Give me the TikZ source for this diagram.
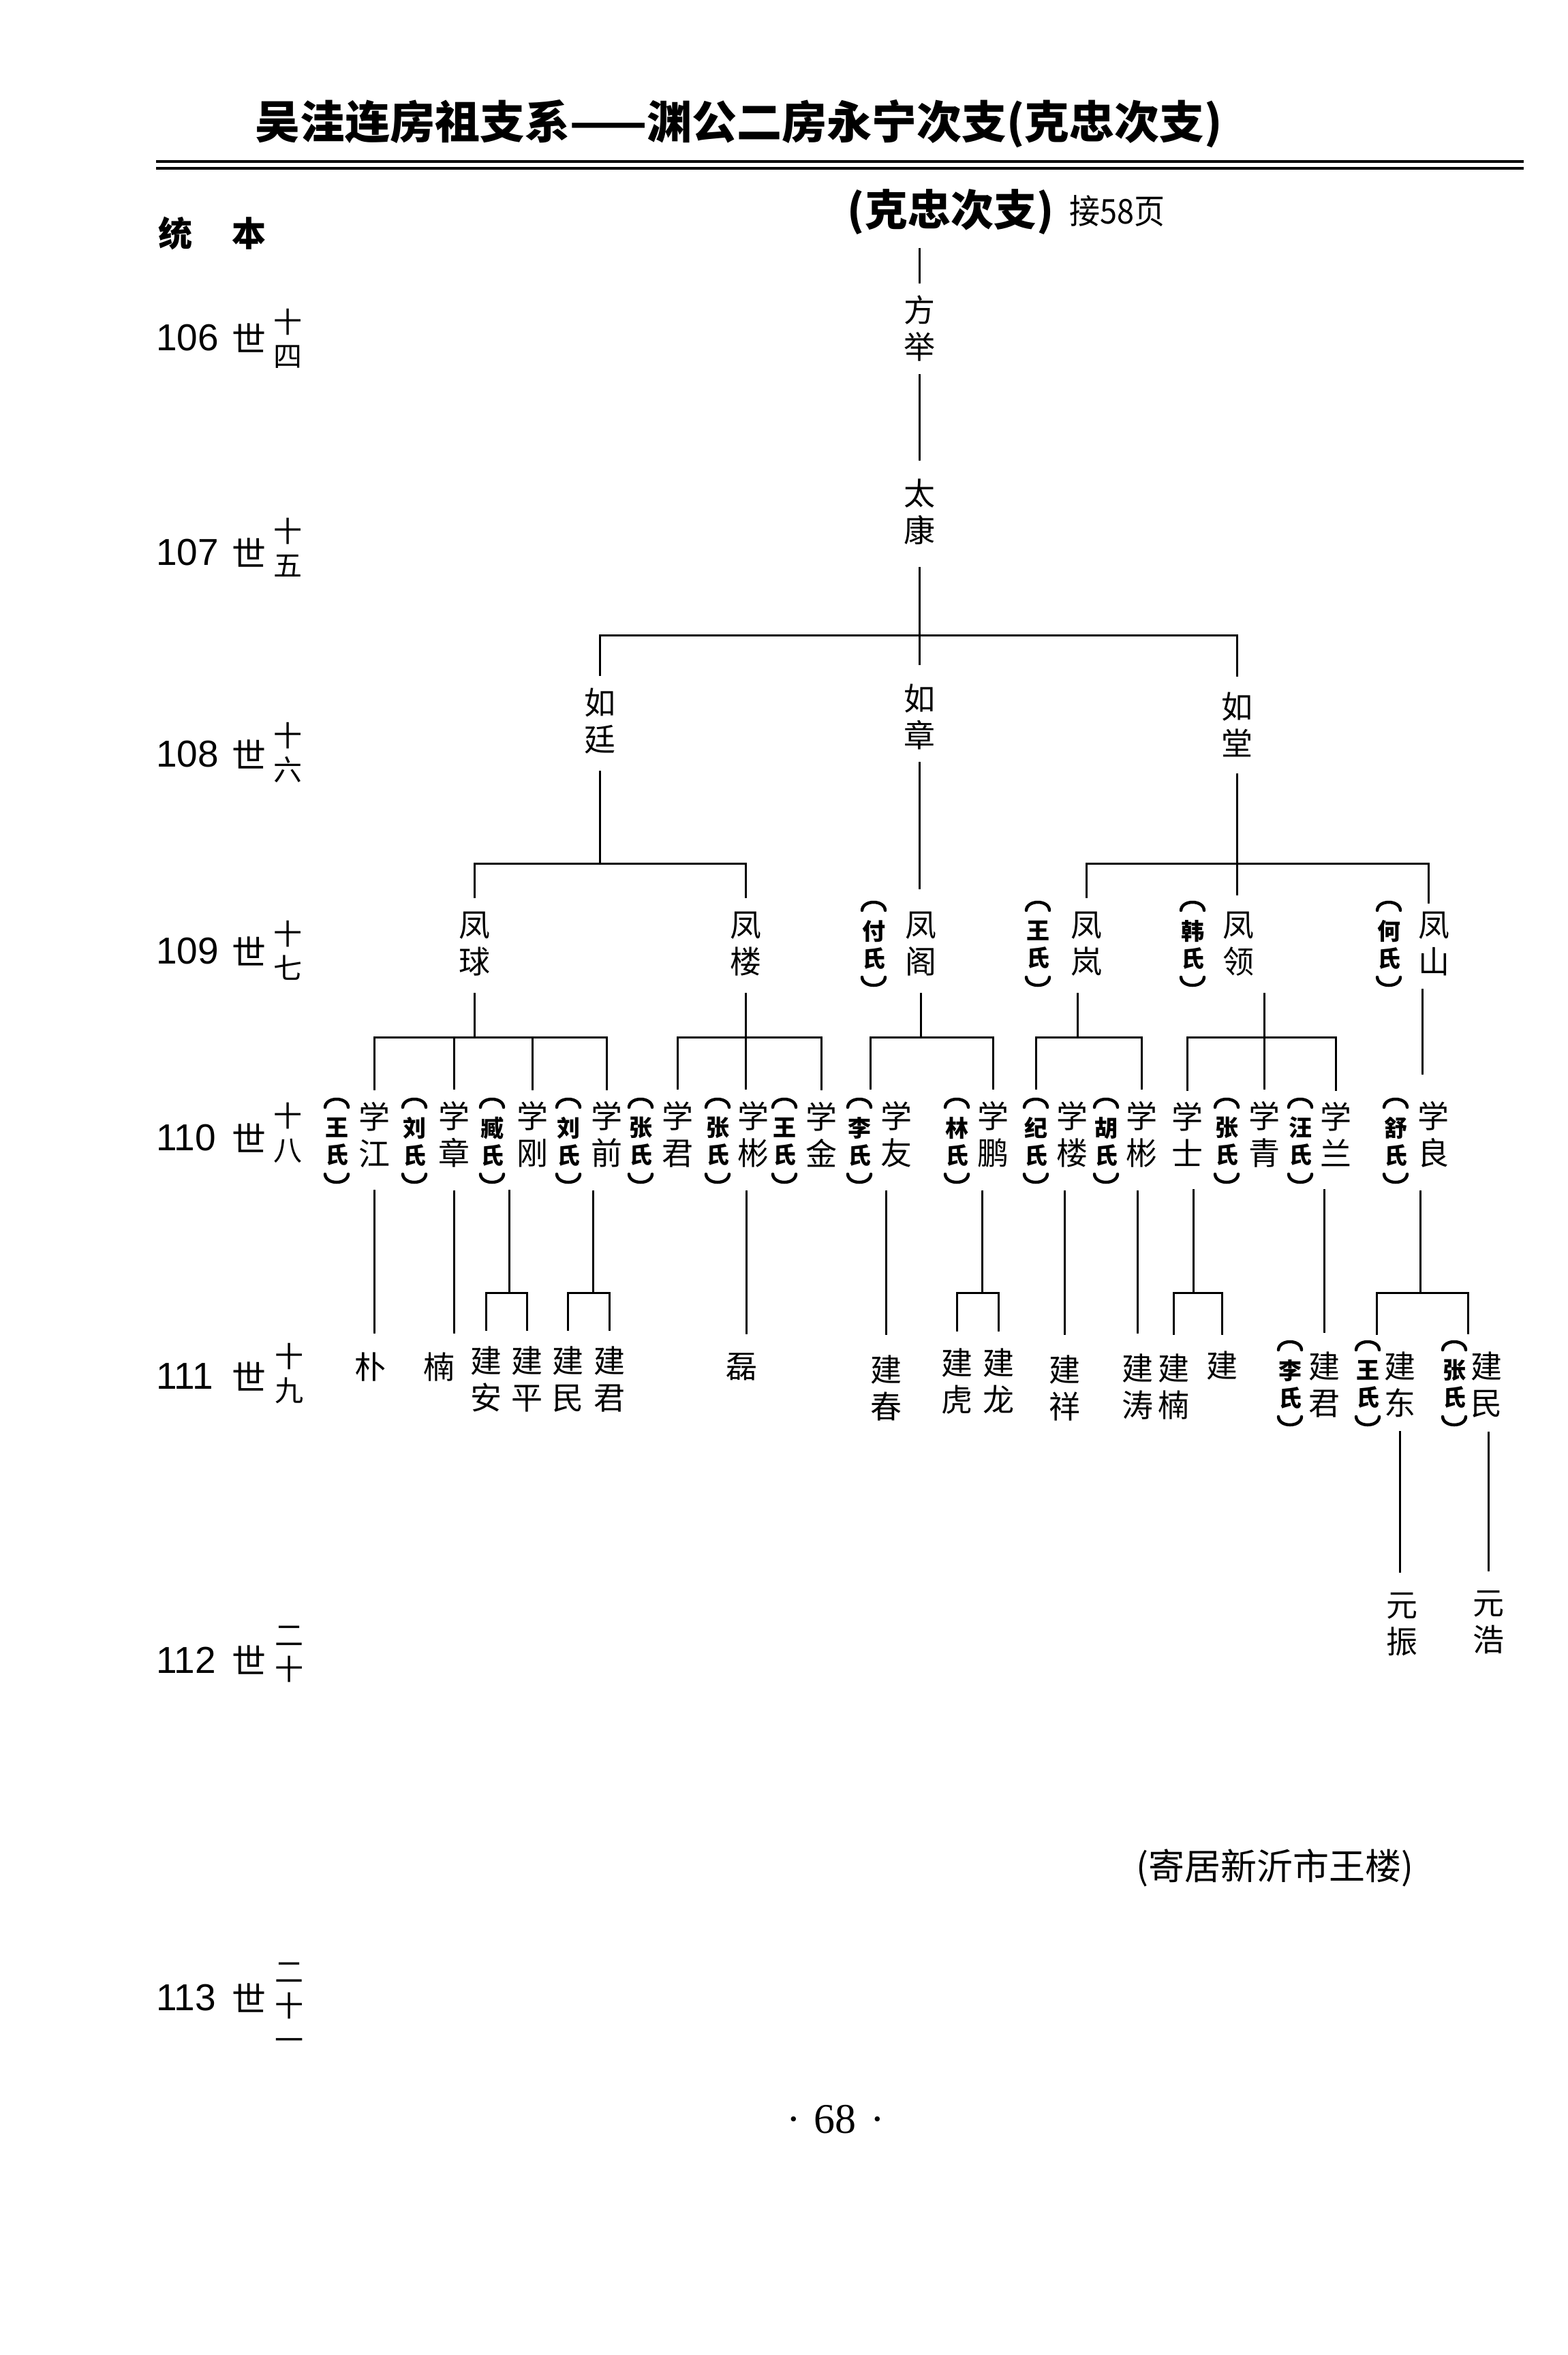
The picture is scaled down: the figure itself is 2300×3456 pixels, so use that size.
\documentclass[tikz,border=0pt]{standalone}
\usepackage{fontspec}
\newfontfamily\cjk{Noto Sans CJK SC}
\newfontfamily\lsans{Liberation Sans}
\newfontfamily\lserif{Liberation Serif}
\usetikzlibrary{calc}
\tikzset{
  ln/.style={line width=3pt, line join=miter},
  brk/.style={line width=4.5pt, line cap=round},
  nm/.style={font=\cjk\fontsize{46}{54}\selectfont, align=center, inner sep=0pt},
  sp/.style={font=\cjk\bfseries\fontsize{34}{40}\selectfont, align=center, inner sep=0pt},
  num/.style={font=\lsans\fontsize{55}{55}\selectfont, anchor=west, inner sep=0pt},
  shi/.style={font=\cjk\fontsize{50}{50}\selectfont, inner sep=0pt},
  stk/.style={font=\cjk\fontsize{42}{50}\selectfont, align=center, inner sep=0pt},
}
\newcommand\spz[4]{%
  \node[sp] (#1) at (#2,#3) {#4\\氏};
  \draw[brk] ([xshift=-17pt,yshift=50pt]#1.center) .. controls ([xshift=-16pt,yshift=66pt]#1.center) and ([xshift=16pt,yshift=66pt]#1.center) .. ([xshift=17pt,yshift=50pt]#1.center);
  \draw[brk] ([xshift=-17pt,yshift=-48pt]#1.center) .. controls ([xshift=-16pt,yshift=-64pt]#1.center) and ([xshift=16pt,yshift=-64pt]#1.center) .. ([xshift=17pt,yshift=-48pt]#1.center);
}
\begin{document}
\begin{tikzpicture}[x=1pt,y=-1pt]
\fill[white] (0,0) rectangle (2300,3456);
\useasboundingbox (0,0) rectangle (2300,3456);

% ---------- header ----------
\node[font=\cjk\bfseries\fontsize{66}{66}\selectfont, anchor=west, inner sep=0pt] (title) at (374,182) {吴洼连房祖支系——渊公二房永宁次支(克忠次支)};
\coordinate (rl) at (229,237); \coordinate (rr) at (2236,237);
\draw[line width=4pt] (rl) -- (rr);
\draw[line width=4pt] ([yshift=-10pt]rl) -- ([yshift=-10pt]rr);

\node[font=\cjk\bfseries\fontsize{50}{50}\selectfont, inner sep=0pt] (tong) at (257,342) {统};
\node[font=\cjk\bfseries\fontsize{50}{50}\selectfont, inner sep=0pt] (ben) at (365,342) {本};

\node[font=\cjk\bfseries\fontsize{63}{63}\selectfont, inner sep=0pt] (kz) at (1395,311) {(克忠次支)};
\node[font=\cjk\fontsize{50}{50}\selectfont, inner sep=0pt, anchor=west] (j58) at (1569,310) {\scalebox{0.9}[1]{接58页}};

% ---------- generation labels ----------
\node[num] (n106) at (229,496) {106}; \node[shi] (w106) at (365,496) {世}; \node[stk] (k106) at (422,497) {十\\四};
\node[num] (n107) at (229,811) {107}; \node[shi] (w107) at (365,811) {世}; \node[stk] (k107) at (422,803) {十\\五};
\node[num] (n108) at (229,1107) {108}; \node[shi] (w108) at (365,1107) {世}; \node[stk] (k108) at (422,1104) {十\\六};
\node[num] (n109) at (229,1396) {109}; \node[shi] (w109) at (365,1396) {世}; \node[stk] (k109) at (422,1395) {十\\七};
\node[num] (n110) at (229,1670) {110}; \node[shi] (w110) at (365,1670) {世}; \node[stk] (k110) at (422,1662) {十\\八};
\node[num] (n111) at (229,2020) {111}; \node[shi] (w111) at (365,2020) {世}; \node[stk] (k111) at (424,2016) {十\\九};
\node[num] (n112) at (229,2436) {112}; \node[shi] (w112) at (365,2436) {世}; \node[stk] (k112) at (424,2428) {二\\十};
\node[num] (n113) at (229,2932) {113}; \node[shi] (w113) at (365,2932) {世}; \node[stk] (k113) at (424,2945) {二\\十\\一};

% ---------- tree nodes ----------
\node[nm] (g106) at (1349,482) {方\\举};
\node[nm] (g107) at (1349,751) {太\\康};
\node[nm] (g108a) at (880,1058) {如\\廷};
\node[nm] (g108b) at (1349,1052) {如\\章};
\node[nm] (g108c) at (1815,1063) {如\\堂};

\node[nm] (g109a) at (696,1385) {凤\\球};
\node[nm] (g109b) at (1094,1385) {凤\\楼};
\spz{s109c}{1282}{1386}{付} \node[nm] (g109c) at (1351,1385) {凤\\阁};
\spz{s109d}{1523}{1386}{王} \node[nm] (g109d) at (1594,1385) {凤\\岚};
\spz{s109e}{1750}{1386}{韩} \node[nm] (g109e) at (1817,1385) {凤\\领};
\spz{s109f}{2038}{1386}{何} \node[nm] (g109f) at (2104,1385) {凤\\山};

\spz{s110a}{494}{1675}{王}  \node[nm] (g110a) at (549,1665) {学\\江};
\spz{s110b}{608}{1675}{刘}  \node[nm] (g110b) at (666,1665) {学\\章};
\spz{s110c}{722}{1675}{臧}  \node[nm] (g110c) at (781,1665) {学\\刚};
\spz{s110d}{834}{1675}{刘}  \node[nm] (g110d) at (890,1665) {学\\前};
\spz{s110e}{940}{1675}{张}  \node[nm] (g110e) at (994,1665) {学\\君};
\spz{s110f}{1053}{1675}{张} \node[nm] (g110f) at (1105,1665) {学\\彬};
\spz{s110g}{1151}{1675}{王} \node[nm] (g110g) at (1205,1665) {学\\金};
\spz{s110h}{1261}{1675}{李} \node[nm] (g110h) at (1315,1665) {学\\友};
\spz{s110i}{1404}{1675}{林} \node[nm] (g110i) at (1457,1665) {学\\鹏};
\spz{s110j}{1520}{1675}{纪} \node[nm] (g110j) at (1573,1665) {学\\楼};
\spz{s110k}{1623}{1675}{胡} \node[nm] (g110k) at (1675,1665) {学\\彬};
\node[nm] (g110l) at (1742,1665) {学\\士};
\spz{s110m}{1800}{1675}{张} \node[nm] (g110m) at (1855,1665) {学\\青};
\spz{s110n}{1908}{1675}{汪} \node[nm] (g110n) at (1960,1665) {学\\兰};
\spz{s110o}{2048}{1675}{舒} \node[nm] (g110o) at (2103,1665) {学\\良};

\node[nm] (g111a) at (543,2006) {朴};
\node[nm] (g111b) at (644,2006) {楠};
\node[nm] (g111c) at (713,2024) {建\\安};
\node[nm] (g111d) at (773,2024) {建\\平};
\node[nm] (g111e) at (833,2024) {建\\民};
\node[nm] (g111f) at (894,2024) {建\\君};
\node[nm] (g111g) at (1088,2006) {磊};
\node[nm] (g111h) at (1300,2037) {建\\春};
\node[nm] (g111i) at (1404,2027) {建\\虎};
\node[nm] (g111j) at (1465,2027) {建\\龙};
\node[nm] (g111k) at (1562,2037) {建\\祥};
\node[nm] (g111l) at (1669,2035) {建\\涛};
\node[nm] (g111m) at (1722,2035) {建\\楠};
\node[nm] (g111n) at (1793,2004) {建};
\spz{s111o}{1893}{2031}{李} \node[nm] (g111o) at (1943,2032) {建\\君};
\spz{s111p}{2007}{2031}{王} \node[nm] (g111p) at (2054,2032) {建\\东};
\spz{s111q}{2134}{2031}{张} \node[nm] (g111q) at (2181,2032) {建\\民};

\node[nm] (g112a) at (2057,2384) {元\\振};
\node[nm] (g112b) at (2184,2381) {元\\浩};

\node[font=\cjk\fontsize{53}{53}\selectfont, inner sep=0pt] (note) at (1871,2741) {(寄居新沂市王楼)};
\node[font=\lserif\fontsize{62}{62}\selectfont, inner sep=0pt] (pg) at (1226,3110) {·\hspace{20pt}68\hspace{20pt}·};

% ---------- connectors ----------
\coordinate (bar108) at (0,932);
\coordinate (bar109) at (0,1267);
\coordinate (bar110) at (0,1522);
\coordinate (bar111) at (0,1897);

\draw[ln, shorten <=19pt, shorten >=17pt] (kz.south -| g106) -- (g106.north);
\draw[ln, shorten <=18pt, shorten >=27pt] (g106.south) -- (g107.north);
\draw[ln, shorten <=33pt, shorten >=28pt] (g107.south) -- (g108b.north);
\draw[ln] ([yshift=18pt]g108a.north) |- (g108c.north |- bar108) -- ([yshift=22pt]g108c.north);

% 108 -> 109
\draw[ln] ([yshift=-25pt]g108a.south) -- (g108a.south |- bar109);
\draw[ln] ([yshift=20pt]g109a.north) |- (g109b.north |- bar109) -- ([yshift=20pt]g109b.north);
\draw[ln, shorten <=18pt, shorten >=33pt] (g108b.south) -- (g108b.south |- g109c.north);
\draw[ln, shorten <=24pt, shorten >=24pt] (g108c.south) -- (g108c.south |- g109e.north);
\coordinate (u109f) at ([xshift=-8pt,yshift=12pt]g109f.north);
\draw[ln] ([yshift=20pt]g109d.north) |- (u109f |- bar109) -- (u109f);

% 109 -> 110
\draw[ln] ([yshift=-25pt]g109a.south) -- (g109a.south |- bar110);
\draw[ln] ([yshift=17pt]g110a.north) |- (g110d.north |- bar110) -- ([yshift=17pt]g110d.north);
\draw[ln] ([yshift=17pt]g110b.north) -- (g110b.north |- bar110);
\draw[ln] ([yshift=17pt]g110c.north) -- (g110c.north |- bar110);

\draw[ln, shorten <=25pt, shorten >=17pt] (g109b.south) -- (g109b.south |- g110f.north);
\draw[ln] ([yshift=17pt]g110e.north) |- (g110g.north |- bar110) -- ([yshift=17pt]g110g.north);

\draw[ln] ([yshift=-25pt]g109c.south) -- (g109c.south |- bar110);
\coordinate (u110h) at ([xshift=16pt,yshift=40pt]s110h.north);
\draw[ln] (u110h) |- (g110i.north |- bar110) -- ([yshift=17pt]g110i.north);

\coordinate (c109d) at ([xshift=-13pt]g109d.south);
\draw[ln] ([yshift=-25pt]c109d) -- (c109d |- bar110);
\draw[ln] ([yshift=40pt]s110j.north) |- (g110k.north |- bar110) -- ([yshift=17pt]g110k.north);

\draw[ln, shorten <=25pt, shorten >=17pt] (g109e.south -| g110m) -- (g110m.north);
\draw[ln] ([yshift=17pt]g110l.north) |- (g110n.north |- bar110) -- ([yshift=17pt]g110n.north);

\coordinate (c109f) at ([xshift=-17pt]g109f.south);
\draw[ln, shorten <=19pt, shorten >=39pt] (c109f) -- (c109f |- g110o.north);

% 110 -> 111
\draw[ln, shorten <=33pt, shorten >=28pt] (g110a.south) -- (g110a.south |- g111a.north);
\draw[ln, shorten <=33pt, shorten >=28pt] (g110b.south) -- (g110b.south |- g111b.north);

\coordinate (c110c) at ([xshift=-34pt]g110c.south);
\draw[ln] ([yshift=-33pt]c110c) -- (c110c |- bar111);
\draw[ln] ([yshift=23pt]g111c.north) |- (g111d.north |- bar111) -- ([yshift=23pt]g111d.north);

\coordinate (c110d) at ([xshift=-20pt]g110d.south);
\draw[ln] ([yshift=-33pt]c110d) -- (c110d |- bar111);
\draw[ln] ([yshift=23pt]g111e.north) |- (g111f.north |- bar111) -- ([yshift=23pt]g111f.north);

\coordinate (c110f) at ([xshift=-10pt]g110f.south);
\draw[ln, shorten <=33pt, shorten >=28pt] (c110f) -- (c110f |- g111g.north);

\draw[ln, shorten <=33pt, shorten >=30pt] (g110h.south -| g111h) -- (g111h.north);

\coordinate (c110i) at ([xshift=-16pt]g110i.south);
\draw[ln] ([yshift=-33pt]c110i) -- (c110i |- bar111);
\draw[ln] ([yshift=25pt]g111i.north) |- (g111j.north |- bar111) -- ([yshift=25pt]g111j.north);

\draw[ln, shorten <=33pt, shorten >=30pt] (g110j.south -| g111k) -- (g111k.north);
\draw[ln, shorten <=33pt, shorten >=30pt] (g110k.south -| g111l) -- (g111l.north);

\coordinate (c110l) at ([xshift=9pt]g110l.south);
\draw[ln] ([yshift=-33pt]c110l) -- (c110l |- bar111);
\draw[ln] ([yshift=28pt]g111m.north) |- (g111n.north |- bar111) -- ([yshift=24pt]g111n.north);

\draw[ln, shorten <=33pt, shorten >=28pt] (g110n.south -| g111o) -- (g111o.north);

\coordinate (c110o) at ([xshift=-19pt]g110o.south);
\draw[ln] ([yshift=-33pt]c110o) -- (c110o |- bar111);
\coordinate (d111p) at ([xshift=13pt,yshift=37pt]s111p.north);
\coordinate (d111q) at ([xshift=20pt,yshift=37pt]s111q.north);
\draw[ln] (d111p) |- (d111q |- bar111) -- (d111q);

% 111 -> 112
\draw[ln, shorten <=20pt, shorten >=29pt] (g111p.south) -- (g111p.south |- g112a.north);
\draw[ln, shorten <=20pt, shorten >=29pt] (g111q.south -| g112b) -- (g112b.north);
\end{tikzpicture}
\end{document}
